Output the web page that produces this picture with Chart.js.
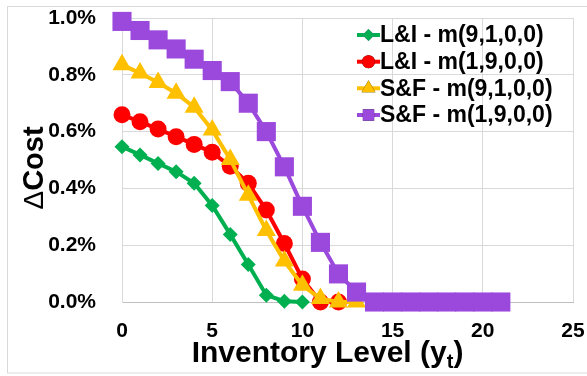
<!DOCTYPE html>
<html>
<head>
<meta charset="utf-8">
<script src="https://cdn.jsdelivr.net/npm/chart.js@4/dist/chart.umd.min.js"></script>
<style>
html,body{margin:0;padding:0;background:#fff;}
#wrap{width:587px;height:376px;position:relative;}
</style>
</head>
<body>
<div id="wrap"><canvas id="c" width="587" height="376"></canvas></div>
<script>
// ---- data ----
const seriesNames = ['L&I - m(9,1,0,0)', 'L&I - m(1,9,0,0)', 'S&F - m(9,1,0,0)', 'S&F - m(1,9,0,0)'];
const inventoryLevels = [0,1,2,3,4,5,6,7,8,9,10,11,12,13,14,15,16,17,18,19,20,21];
const li91 = [0.547,0.518,0.488,0.459,0.418,0.340,0.238,0.132,0.024,0.003,0.0];
const li19 = [0.659,0.635,0.609,0.582,0.555,0.527,0.478,0.418,0.324,0.206,0.081,0.0,0.0];
const sf91 = [0.835,0.806,0.773,0.735,0.686,0.606,0.502,0.376,0.252,0.144,0.059,0.012,0.0,0.0];
const sf19 = [0.988,0.956,0.923,0.891,0.855,0.815,0.776,0.700,0.600,0.476,0.337,0.210,0.099,0.035,0,0,0,0,0,0,0,0];
const yTicks = [0,0.2,0.4,0.6,0.8,1.0];
const xTicks = [0,5,10,15,20,25];
const xTitleMain = 'Inventory Level (y';
const xTitleSub = 't';
const yTitleDelta = '\u0394';
const yTitleRest = 'Cost';

const colors = ['#00B050','#FF0000','#FFC000','#9B48DD'];
const styles = ['rectRot','circle','triangle','rect'];
const radii = [7.5,8.5,11,13.5];
const seriesData = [li91, li19, sf91, sf19];

function toPoints(arr){ return arr.map((v,i)=>({x:inventoryLevels[i], y:v})); }

const FONT = '"Liberation Sans", Arial, sans-serif';

const datasets = seriesData.map((arr,i)=>({
  label: seriesNames[i],
  data: toPoints(arr),
  borderColor: colors[i],
  backgroundColor: colors[i],
  pointBackgroundColor: colors[i],
  pointBorderColor: colors[i],
  pointBorderWidth: 0,
  pointStyle: styles[i],
  pointRadius: radii[i],
  borderWidth: 4,
  tension: 0,
  clip: false,
  order: 4 - i
}));

const decor = {
  id: 'decor',
  beforeDraw(chart){
    const ctx = chart.ctx;
    ctx.save();
    ctx.fillStyle = '#fff';
    ctx.fillRect(0,0,chart.width,chart.height);
    ctx.strokeStyle = '#d9d9d9';
    ctx.lineWidth = 1;
    ctx.strokeRect(7.5, 6.5, 600, 366.5);
    ctx.restore();
  },
  afterDraw(chart){
    const ctx = chart.ctx;
    // y title: thin delta + bold "Cost"
    ctx.save();
    ctx.fillStyle = '#000';
    const dFont = '28px ' + FONT;
    const cFont = 'bold 29px ' + FONT;
    ctx.font = dFont;
    const wd = ctx.measureText(yTitleDelta).width;
    ctx.font = cFont;
    const wc = ctx.measureText(yTitleRest).width;
    ctx.translate(43, 168);
    ctx.rotate(-Math.PI/2);
    ctx.textAlign = 'left';
    ctx.textBaseline = 'alphabetic';
    const sx = -(wd + wc)/2;
    ctx.font = dFont;
    ctx.fillText(yTitleDelta, sx, 0);
    ctx.font = cFont;
    ctx.fillText(yTitleRest, sx + wd, 0);
    ctx.restore();

    // x title with subscript
    ctx.save();
    ctx.fillStyle = '#000';
    const mainFont = 'bold 30px ' + FONT;
    const subFont = 'bold 20px ' + FONT;
    ctx.font = mainFont;
    const w1 = ctx.measureText(xTitleMain).width;
    const w3 = ctx.measureText(')').width;
    ctx.font = subFont;
    const w2 = ctx.measureText(xTitleSub).width;
    const total = w1 + w2 + w3;
    let x = 327.5 - total/2;
    const base = 362;
    ctx.textBaseline = 'alphabetic';
    ctx.textAlign = 'left';
    ctx.font = mainFont;
    ctx.fillText(xTitleMain, x, base);
    x += w1;
    ctx.font = subFont;
    ctx.fillText(xTitleSub, x, base + 6);
    x += w2;
    ctx.font = mainFont;
    ctx.fillText(')', x, base);
    ctx.restore();

    // legend
    ctx.save();
    const lx0 = 357, lx1 = 380, tx = 380;
    const rowsY = [35, 61.7, 88.3, 115];
    const legR = [6, 6.5, 8, 8];
    ctx.font = 'bold 23px ' + FONT;
    ctx.textBaseline = 'middle';
    ctx.textAlign = 'left';
    seriesNames.forEach((name,i)=>{
      const y = rowsY[i];
      ctx.strokeStyle = colors[i];
      ctx.lineWidth = 4;
      ctx.beginPath();
      ctx.moveTo(lx0, y); ctx.lineTo(lx1, y); ctx.stroke();
      Chart.helpers.drawPoint(ctx, {pointStyle: styles[i], radius: legR[i], borderWidth: 0}, (lx0+lx1)/2, y);
      ctx.fillStyle = colors[i];
      ctx.fill();
      ctx.fillStyle = '#000';
      ctx.fillText(name, tx, y + 1);
    });
    ctx.restore();
  }
};

new Chart(document.getElementById('c'), {
  type: 'line',
  data: { datasets },
  options: {
    responsive: false,
    animation: false,
    devicePixelRatio: 1,
    layout: { padding: { left: 0, right: 14, top: 18, bottom: 0 } },
    plugins: { legend: { display: false }, tooltip: { enabled: false }, title: { display: false } },
    scales: {
      x: {
        type: 'linear',
        min: 0, max: 25,
        afterBuildTicks(scale){ scale.ticks = xTicks.map(v=>({value:v})); },
        afterFit(scale){ scale.height = 74; scale.paddingLeft = 0; scale.paddingRight = 0; },
        ticks: {
          color: '#000',
          font: { family: FONT, size: 21, weight: 'bold' },
          padding: 17,
          maxRotation: 0,
          callback: v => String(v)
        },
        grid: { color: '#d9d9d9', lineWidth: 1, drawTicks: false },
        border: { color: '#bfbfbf', width: 1 }
      },
      y: {
        type: 'linear',
        min: 0, max: 1.0,
        afterBuildTicks(scale){ scale.ticks = yTicks.map(v=>({value:v})); },
        afterFit(scale){ scale.width = 122; scale.paddingTop = 0; scale.paddingBottom = 0; },
        ticks: {
          color: '#000',
          font: { family: FONT, size: 21, weight: 'bold' },
          padding: 26,
          callback: v => v.toFixed(1) + '%'
        },
        grid: { color: '#d9d9d9', lineWidth: 1, drawTicks: false },
        border: { color: '#d9d9d9', width: 1 }
      }
    }
  },
  plugins: [decor]
});
</script>
</body>
</html>
